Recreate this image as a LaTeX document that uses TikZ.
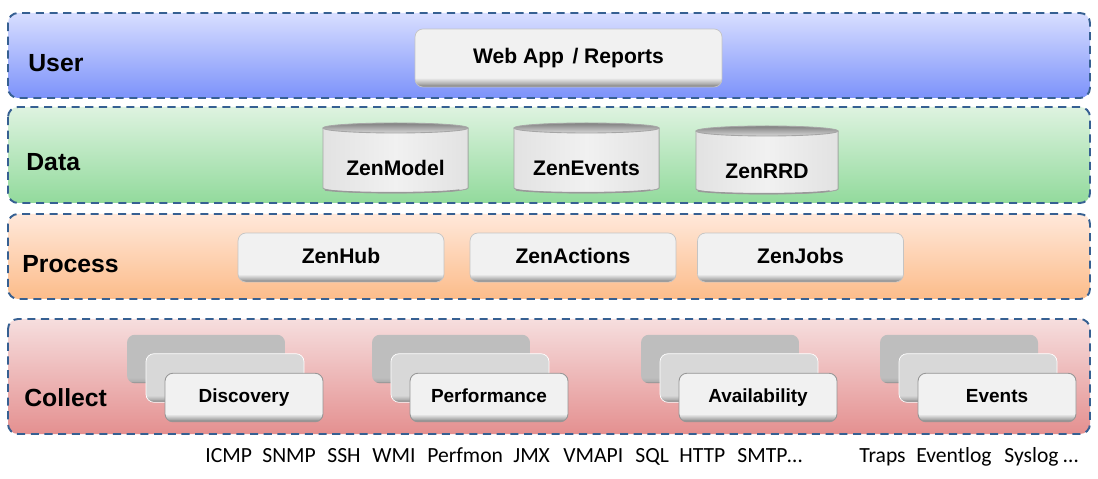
\documentclass[tikz,border=0pt]{standalone}
\usepackage{fontspec}
\setmainfont{Liberation Sans}
\newfontfamily\protofont{Carlito}

\definecolor{layerline}{RGB}{54,96,146}
\definecolor{userhi}{RGB}{216,222,255}
\definecolor{userlo}{RGB}{124,146,250}
\definecolor{datahi}{RGB}{222,243,224}
\definecolor{datalo}{RGB}{146,218,156}
\definecolor{prochi}{RGB}{255,232,218}
\definecolor{proclo}{RGB}{252,188,138}
\definecolor{collhi}{RGB}{246,222,222}
\definecolor{colllo}{RGB}{228,144,144}
\definecolor{boxface}{RGB}{241,241,241}
\definecolor{midface}{RGB}{216,216,216}
\definecolor{backface}{RGB}{190,190,190}
\definecolor{rimdark}{RGB}{118,118,118}
\definecolor{rimmid}{RGB}{175,175,175}
\definecolor{boxline}{RGB}{196,196,196}
\definecolor{frontline}{RGB}{150,150,150}
\definecolor{capdark}{RGB}{128,128,128}
\definecolor{caplight}{RGB}{215,215,215}
\definecolor{cylside}{RGB}{226,226,226}

\pgfdeclareverticalshading{glossface}{100bp}{color(0bp)=(rimdark); color(25bp)=(rimdark); color(28bp)=(rimmid); color(33bp)=(boxface); color(100bp)=(boxface)}
\pgfdeclareverticalshading{glossmid}{100bp}{color(0bp)=(rimdark); color(25bp)=(rimdark); color(28bp)=(rimmid); color(32bp)=(midface); color(100bp)=(midface)}
\pgfdeclareverticalshading{glossback}{100bp}{color(0bp)=(rimdark); color(25bp)=(rimdark); color(27bp)=(rimmid); color(31bp)=(backface); color(100bp)=(backface)}

\tikzset{
    layer/.style={draw=layerline, line width=1.1pt, dash pattern=on 4.6pt off 3.2pt, rounded corners=5.7pt},
    layerlabel/.style={anchor=west, inner sep=0pt, font=\fontsize{14.1}{17}\selectfont\bfseries},
    glossbox/.style={draw=boxline, line width=0.4pt, rounded corners=4.5pt, shading=glossface, inner sep=0pt, text height=0.72em, text depth=0.04em, font=\fontsize{12}{14}\selectfont\bfseries, minimum width=4.12cm, minimum height=0.98cm},
    stackback/.style={rounded corners=4.5pt, shading=glossback, minimum width=3.16cm, minimum height=0.97cm},
    stackmid/.style={draw=white, line width=0.4pt, rounded corners=4.5pt, shading=glossmid, minimum width=3.16cm, minimum height=0.97cm},
    stackfront/.style={draw=frontline, line width=0.5pt, rounded corners=4.5pt, shading=glossface, inner sep=0pt, text height=0.72em, text depth=0.2em, font=\fontsize{10.8}{13}\selectfont\bfseries, minimum width=3.16cm, minimum height=0.97cm},
    cylline/.style={draw=gray!70, line width=0.5pt},
    dbtext/.style={font=\fontsize{12}{14}\selectfont\bfseries, inner sep=0pt, text height=0.72em, text depth=0pt},
    proto/.style={anchor=base west, inner sep=0pt, font=\protofont\fontsize{12.3}{14}\selectfont}
}

\begin{document}
\begin{tikzpicture}[x=0.02cm, y=-0.02cm]
    \useasboundingbox (0,0) rectangle (1098,479);
    \foreach \name/\ya/\yb/\hi/\lo/\lx/\ly in {User/13/98/userhi/userlo/28/63, Data/107/203/datahi/datalo/26/162, Process/214/299/prochi/proclo/22/264, Collect/319/434/collhi/colllo/24/398} {
        \draw [layer, top color=\hi, bottom color=\lo] (8,\ya) rectangle (1090,\yb);
        \node [layerlabel] (\name) at (\lx,\ly) {\name};
    }
    \node [glossbox, minimum width=6.14cm, minimum height=1.16cm] (webapp) at (568.5,58) {Web App\hspace{0.4em}/ Reports};
    \foreach \name/\cx/\w/\ct/\cb/\ly in {ZenModel/395.5/72.5/128/188/169, ZenEvents/586.5/72.5/128/188/169, ZenRRD/767/71/131/189/172} {
        \fill [left color=cylside, right color=cylside, middle color=boxface] (\cx-\w,\ct) -- (\cx-\w,\cb) arc [start angle=180, end angle=0, x radius=\w, y radius=5] -- (\cx+\w,\ct) -- cycle;
        \draw [cylline] (\cx-\w,\ct) -- (\cx-\w,\cb) arc [start angle=180, end angle=0, x radius=\w, y radius=5] -- (\cx+\w,\ct);
        \draw [gray!80, line width=0.8pt] (\cx-\w+2,\cb+2) arc [start angle=160, end angle=20, x radius=\w-1, y radius=4];
        \draw [cylline, top color=capdark, bottom color=caplight] (\cx,\ct) ellipse [x radius=\w, y radius=5];
        \node [dbtext] (\name) at (\cx,\ly) {\name};
    }
    \foreach \name/\cx in {ZenHub/341, ZenActions/573, ZenJobs/800.5}
        \node [glossbox] (\name) at (\cx,257.5) {\name};
    \foreach \name/\cx in {Discovery/206, Performance/451, Availability/720, Events/959} {
        \node [stackback] (\name-back) at (\cx,359) {};
        \node [stackmid] (\name-mid) at (\cx+19,378) {};
        \node [stackfront] (\name) at (\cx+38,397.5) {\name};
    }
    \foreach \proto/\px in {ICMP/205, SNMP/262, SSH/327, WMI/372, Perfmon/427, JMX/513, VMAPI/563, SQL/635, HTTP/679, SMTP\textellipsis/737, Traps/859, Eventlog/916, Syslog \textellipsis/1004}
        \node [proto] (proto\px) at (\px,462) {\proto};
\end{tikzpicture}
\end{document}
